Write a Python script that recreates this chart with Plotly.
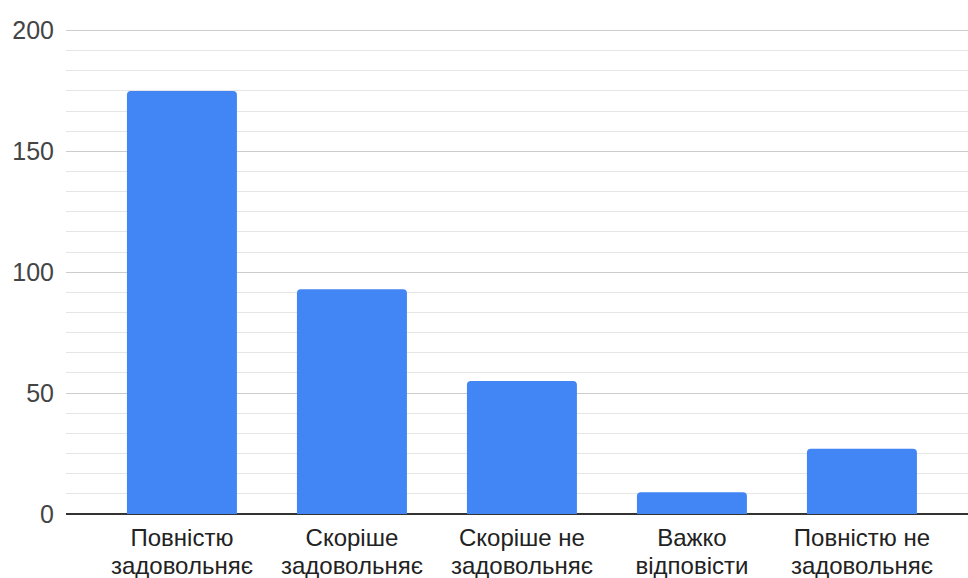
import plotly.graph_objects as go

# Category labels, split into their two printed lines
label_line1 = ["Повністю", "Скоріше", "Скоріше не", "Важко", "Повністю не"]
label_line2 = ["задовольняє", "задовольняє", "задовольняє", "відповісти", "задовольняє"]
counts = [175, 93, 55, 9, 27]
y_ticks = [0, 50, 100, 150, 200]

FONT = "Arial, Liberation Sans, sans-serif"
positions = list(range(len(counts)))
x_range = [-0.682, 4.624]

fig = go.Figure()
fig.add_trace(
    go.Bar(
        x=positions,
        y=counts,
        width=0.647,
        marker=dict(color="#4285F4", line=dict(width=0)),
    )
)
# transparent companion trace so the second label axis gets rendered
fig.add_trace(
    go.Scatter(
        x=positions,
        y=counts,
        xaxis="x2",
        mode="markers",
        marker=dict(opacity=0),
        hoverinfo="skip",
    )
)

fig.update_layout(
    width=968,
    height=578,
    margin=dict(l=66, r=0, t=29, b=64),
    paper_bgcolor="white",
    plot_bgcolor="white",
    barcornerradius=4,
    showlegend=False,
    font=dict(family=FONT, size=24, color="#222222"),
    xaxis=dict(
        range=x_range,
        tickmode="array",
        tickvals=positions,
        ticktext=label_line1,
        showgrid=False,
        showline=False,
        zeroline=False,
        ticks="",
        ticklabelstandoff=7,
        tickfont=dict(family=FONT, size=24, color="#222222"),
    ),
    # second label row on an overlaid axis, for tighter line spacing
    xaxis2=dict(
        overlaying="x",
        anchor="y",
        side="bottom",
        range=x_range,
        tickmode="array",
        tickvals=positions,
        ticktext=label_line2,
        showgrid=False,
        showline=False,
        zeroline=False,
        ticks="",
        ticklabelstandoff=35,
        tickfont=dict(family=FONT, size=24, color="#222222"),
    ),
)

fig.update_yaxes(
    range=[0, 200.6],
    tickmode="array",
    tickvals=y_ticks,
    showgrid=True,
    gridcolor="#cccccc",
    gridwidth=1,
    zeroline=True,
    zerolinecolor="#333333",
    zerolinewidth=1.5,
    showline=False,
    ticks="",
    ticklabelstandoff=11,
    tickfont=dict(family=FONT, size=25, color="#444444"),
    minor=dict(tick0=0, dtick=50 / 6, showgrid=True, gridcolor="#e6e6e6", gridwidth=1),
)

fig.write_html("out.html")
